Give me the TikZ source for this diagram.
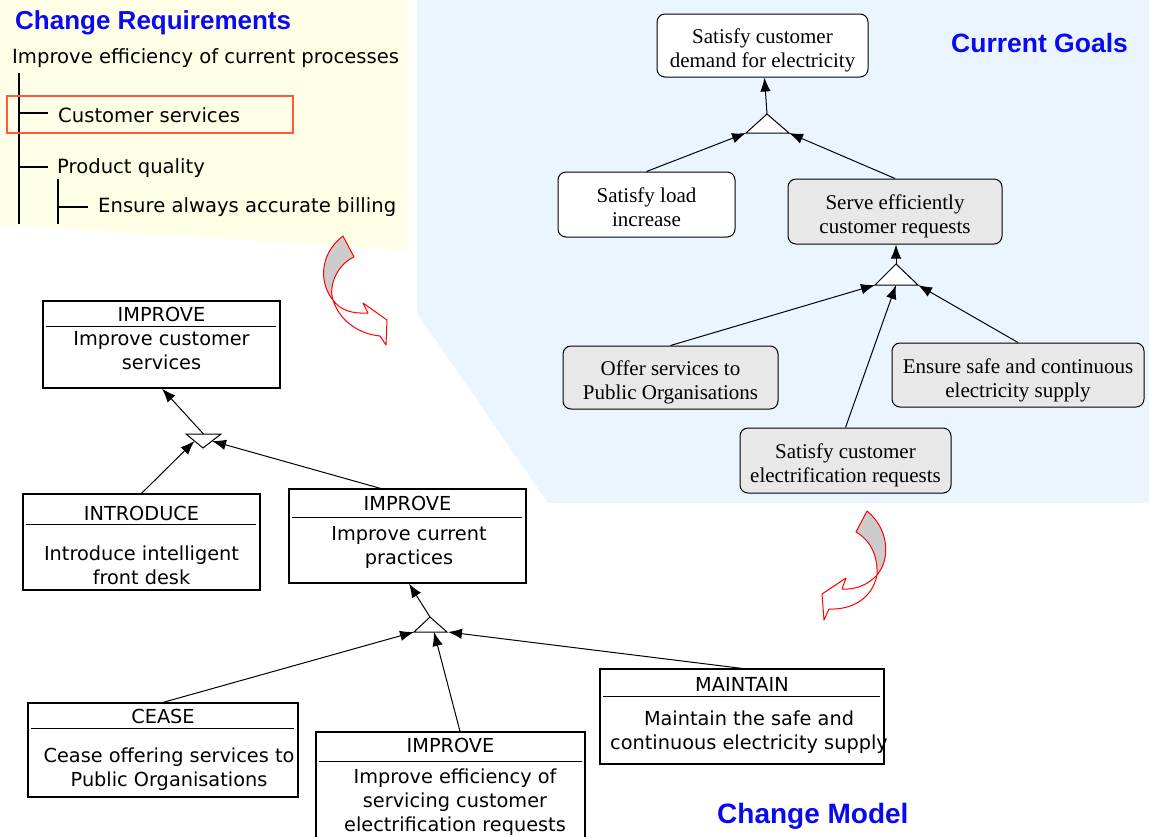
\documentclass[tikz,border=0pt]{standalone}
\usepackage{fontspec}
\usetikzlibrary{arrows.meta}
\newfontfamily\cmfont{DejaVu Sans}
\newfontfamily\goalfont{Liberation Serif}
\newfontfamily\headfont{Liberation Sans}
\definecolor{reqbg}{HTML}{FFFFE8}
\definecolor{goalbg}{HTML}{EBF5FF}
\definecolor{goalgray}{HTML}{E8E8E8}
\definecolor{titleblue}{HTML}{0A0AF0}
\definecolor{markred}{HTML}{FF5A3C}
% two centred lines of a goal, pushed a little down in the box
\newcommand{\goallines}[1]{\begin{tabular}{@{}c@{}}\rule{0pt}{28pt}#1\end{tabular}}

\begin{document}
\begin{tikzpicture}[x=1pt,y=-1pt,
    arr/.style={-{Latex[length=14pt,width=10.5pt]},line width=1pt},
    goal/.style={draw,rounded corners=8pt,line width=1pt,inner sep=0pt,
      font={\goalfont\fontsize{21}{24}\selectfont}},
    cbox/.style={draw,line width=1.2pt,inner sep=0pt},
    chead/.style={inner sep=0pt,font={\cmfont\fontsize{19.3}{24}\selectfont}},
    ctext/.style={inner sep=0pt,align=center,font={\cmfont\fontsize{19.3}{24}\selectfont}},
    reqtext/.style={inner sep=0pt,anchor=base west,font={\cmfont\fontsize{19.6}{24}\selectfont}},
    title/.style={inner sep=0pt,anchor=base west,text=titleblue,
      font={\headfont\bfseries\fontsize{26}{30}\selectfont}},
    andtri/.style={draw,fill=white,line width=1pt},
    curlarrow/.style={draw=red,line width=1pt,line join=round}]
    \useasboundingbox (0,0) rectangle (1149,836);

    % Background areas
    \fill[reqbg] (0,0) -- (408,0) -- (408,250) -- (0,225) -- cycle;
    \fill[goalbg] (417,0) -- (1149,0) -- (1149,503) -- (548,503) -- (417,313) -- cycle;

    % Change requirements
    \node[title] (reqtitle) at (15,29) {Change Requirements};
    \node[reqtext] (req) at (12,63) {Improve efficiency of current processes};
    \draw[line width=1.3pt] (19,73) -- (19,224);
    \draw[line width=1.3pt] (19,113) -- (48,113);
    \node[reqtext] (reqcs) at (58,122) {Customer services};
    \draw[markred,line width=1.3pt] (7,96) rectangle (293,133);
    \draw[line width=1.3pt] (19,167) -- (48,167);
    \node[reqtext] (reqpq) at (57,173) {Product quality};
    \draw[line width=1.3pt] (58,179) -- (58,224);
    \draw[line width=1.3pt] (58,207) -- (88,207);
    \node[reqtext] (reqbill) at (98,212) {Ensure always accurate billing};

    % Current goals
    \node[title,font={\headfont\bfseries\fontsize{26.5}{30}\selectfont}] (goaltitle) at (951,52) {Current Goals};
    \node[goal,fill=white,minimum width=211,minimum height=63] (g1) at (762.5,45.5) {\goallines{Satisfy customer\\demand for electricity}};
    \node[goal,fill=white,minimum width=177,minimum height=65] (gload) at (646.5,204.5) {\goallines{Satisfy load\\increase}};
    \node[goal,fill=goalgray,minimum width=214,minimum height=65] (gserve) at (895,211.5) {\goallines{Serve efficiently\\customer requests}};
    \node[goal,fill=goalgray,minimum width=215,minimum height=63] (goffer) at (670.5,377.5) {\goallines{Offer services to\\Public Organisations}};
    \node[goal,fill=goalgray,minimum width=252,minimum height=64] (gensure) at (1018,375) {\goallines{Ensure safe and continuous\\electricity supply}};
    \node[goal,fill=goalgray,minimum width=211,minimum height=65] (gsat) at (845.5,460.5) {\goallines{Satisfy customer\\electrification requests}};

    % AND triangles of the goal model
    \coordinate (t1) at (767,114);
    \coordinate (t1l) at (746,133);
    \coordinate (t1r) at (789,133);
    \draw[andtri] (t1) -- (t1l) -- (t1r) -- cycle;
    \coordinate (t2) at (896,264);
    \coordinate (t2l) at (875,285);
    \coordinate (t2m) at (896,285);
    \coordinate (t2r) at (918,285);
    \draw[andtri] (t2) -- (t2l) -- (t2r) -- cycle;

    \draw[arr] (t1) -- ([xshift=2pt]g1.south);
    \draw[arr] (gload.north) -- (t1l);
    \draw[arr] (gserve.north) -- (t1r);
    \draw[arr] (t2) -- ([xshift=1pt]gserve.south);
    \draw[arr] (goffer.north) -- (t2l);
    \draw[arr] (gsat.north) -- (t2m);
    \draw[arr] (gensure.north) -- (t2r);

    % Change model boxes
    \node[title,font={\headfont\bfseries\fontsize{28}{32}\selectfont}] (modeltitle) at (717,823) {Change Model};

    \node[cbox,minimum width=237,minimum height=87] (c1) at (161.5,344.5) {};
    \node[chead] (c1h) at (161.5,314) {IMPROVE};
    \draw[line width=1pt] (46,326) -- (276,326);
    \node[ctext] (c1b) at (161.5,350.5) {Improve customer\\services};

    \node[cbox,minimum width=237,minimum height=96] (c2) at (141.5,542) {};
    \node[chead] (c2h) at (141.5,513) {INTRODUCE};
    \draw[line width=1pt] (26,524) -- (256,524);
    \node[ctext] (c2b) at (141.5,565.5) {Introduce intelligent\\front desk};

    \node[cbox,minimum width=237,minimum height=94] (c3) at (407.5,536) {};
    \node[chead] (c3h) at (407.5,503) {IMPROVE};
    \draw[line width=1pt] (292,517) -- (522,517);
    \node[ctext] (c3b) at (409,547.5) {Improve current\\practices};

    \node[cbox,minimum width=270,minimum height=94] (c4) at (163,750) {};
    \node[chead] (c4h) at (163,716) {CEASE};
    \draw[line width=1pt] (31,728) -- (294,728);
    \node[ctext] (c4b) at (169,769.5) {Cease offering services to\\Public Organisations};

    \node[cbox,minimum width=269,minimum height=118] (c5) at (450.5,791) {};
    \node[chead] (c5h) at (450.5,745) {IMPROVE};
    \draw[line width=1pt] (319,761) -- (582,761);
    \node[ctext] (c5b) at (455,802) {Improve efficiency of\\servicing customer\\electrification requests};

    \node[cbox,minimum width=284,minimum height=95] (c6) at (742,716.5) {};
    \node[chead] (c6h) at (742,684) {MAINTAIN};
    \draw[line width=1pt] (603,696) -- (880,696);
    \node[ctext] (c6b) at (749,732) {Maintain the safe and\\continuous electricity supply};

    % Triangles of the change model
    \coordinate (ta) at (203.5,434);
    \coordinate (tal) at (194.5,441);
    \coordinate (tar) at (212,441);
    \draw[andtri] (186,434) -- (221,434) -- (203,448) -- cycle;
    \coordinate (tb) at (430,617);
    \coordinate (tbl) at (414,632);
    \coordinate (tbm) at (434,632);
    \coordinate (tbr) at (448,632);
    \draw[andtri] (tb) -- (tbl) -- (447,632) -- cycle;

    \draw[arr] (ta) -- ([xshift=0.5pt]c1.south);
    \draw[arr] (c2.north) -- (tal);
    \draw[arr] ([xshift=-27pt]c3.north) -- (tar);
    \draw[arr] (tb) -- ([xshift=1.5pt]c3.south);
    \draw[arr] (c4.north) -- (tbl);
    \draw[arr] ([xshift=9.5pt]c5.north) -- (tbm);
    \draw[arr] (c6.north) -- (tbr);

    % Curved arrows between the models
    \draw[curlarrow,fill=gray!40] (343,236) -- (354,257) .. controls (338,264) and (328,285) .. (333,300)
        .. controls (320,285) and (318,255) .. (343,236) -- cycle;
    \draw[curlarrow,fill=white] (333,300) .. controls (340,310) and (352,314) .. (368,313) -- (363,303)
        -- (387,320) -- (386,345) -- (380,336) .. controls (360,334) and (340,322) .. (333,300) -- cycle;
    \draw[curlarrow,fill=gray!40] (867,511) -- (856,532) .. controls (870,540) and (878,555) .. (877,575)
        .. controls (890,560) and (890,530) .. (867,511) -- cycle;
    \draw[curlarrow,fill=white] (877,575) .. controls (868,585) and (855,590) .. (842,589) -- (846,578)
        -- (822,594) -- (824,620) -- (829,609) .. controls (850,610) and (872,600) .. (877,575) -- cycle;
\end{tikzpicture}
\end{document}
